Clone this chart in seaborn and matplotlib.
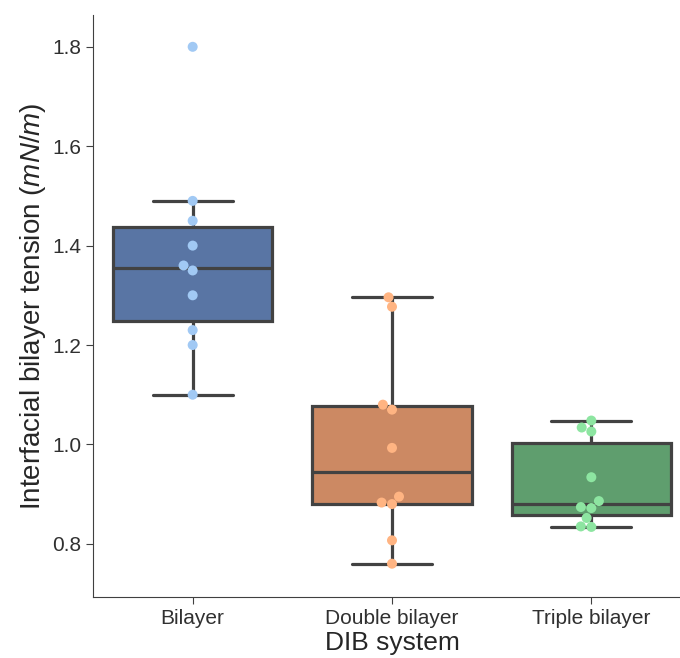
import matplotlib
matplotlib.use("Agg")
import matplotlib.pyplot as plt
import seaborn as sns
import pandas as pd

categories = ["Bilayer", "Double bilayer", "Triple bilayer"]
bilayer = [1.80, 1.49, 1.45, 1.40, 1.36, 1.35, 1.30, 1.23, 1.20, 1.10]
double_bilayer = [1.296, 1.277, 1.080, 1.070, 0.993, 0.895, 0.883, 0.880, 0.807, 0.760]
triple_bilayer = [1.048, 1.034, 1.026, 0.934, 0.886, 0.872, 0.874, 0.852, 0.835, 0.834]
y_ticks = [0.8, 1.0, 1.2, 1.4, 1.6, 1.8]

rows = []
for cat, vals in zip(categories, [bilayer, double_bilayer, triple_bilayer]):
    for v in vals:
        rows.append({"DIB system": cat, "tension": v})
df = pd.DataFrame(rows)

sns.set_style("ticks")
plt.rcParams["font.family"] = ["Liberation Sans", "DejaVu Sans"]
plt.rcParams["mathtext.fontset"] = "custom"
plt.rcParams["mathtext.it"] = "Liberation Sans:italic"
plt.rcParams["mathtext.rm"] = "Liberation Sans"

fig = plt.figure(figsize=(6.8, 6.58), dpi=100)
ax = fig.add_axes([93 / 680, 61 / 658, 598 / 680, 582 / 658])

sns.boxplot(data=df, x="DIB system", y="tension", hue="DIB system",
            order=categories, hue_order=categories, palette="deep",
            showfliers=False, linewidth=2.3, linecolor="#424242",
            width=0.8, legend=False, ax=ax)
sns.swarmplot(data=df, x="DIB system", y="tension", hue="DIB system",
              order=categories, hue_order=categories, palette="pastel",
              size=7.2, linewidth=0, legend=False, ax=ax)

ax.set_ylim(0.693, 1.864)
ax.set_xlim(-0.5, 2.5)
ax.set_yticks(y_ticks)
ax.set_yticklabels([f"{t:.1f}" for t in y_ticks])
ax.tick_params(axis="both", labelsize=15, colors="#404040", labelcolor="#303030", length=5)
ax.set_xlabel("DIB system", fontsize=19, color="#262626", labelpad=2)
ax.set_ylabel("Interfacial bilayer tension ($mN/m$)", fontsize=20, color="#262626", labelpad=3)
sns.despine(ax=ax)
for s in ["left", "bottom"]:
    ax.spines[s].set_color("#404040")

fig.savefig("out.png", dpi=100)
